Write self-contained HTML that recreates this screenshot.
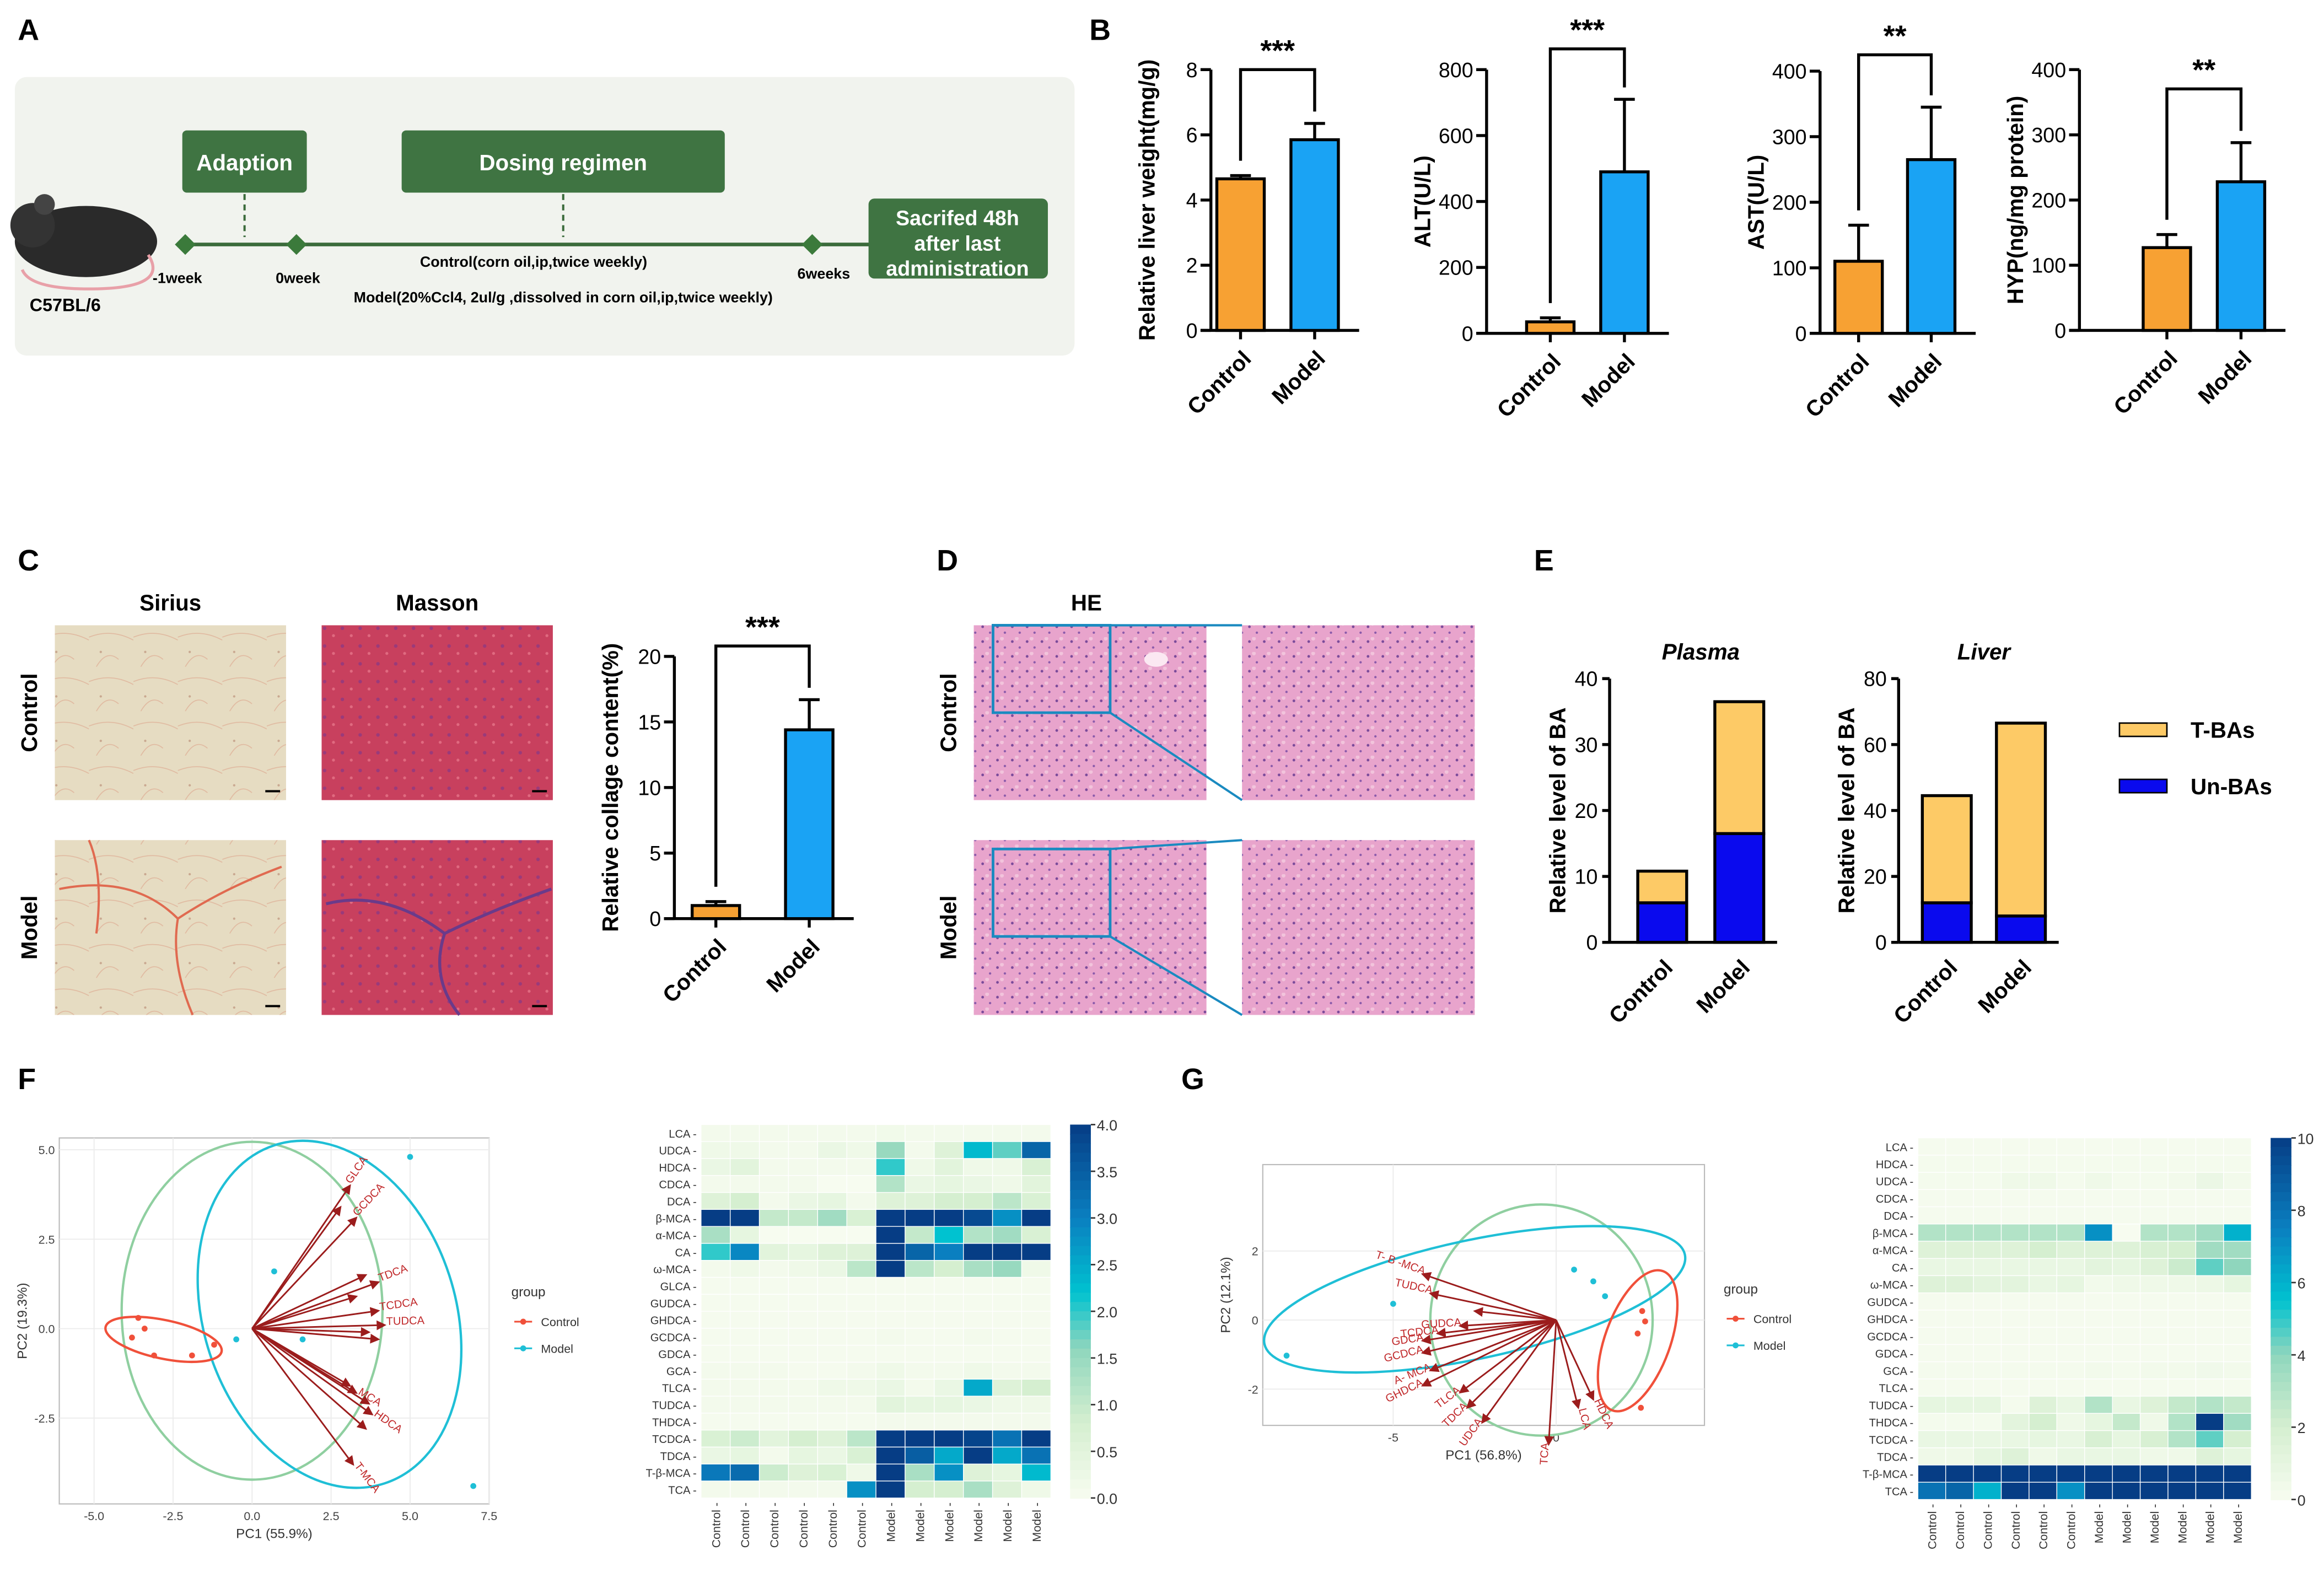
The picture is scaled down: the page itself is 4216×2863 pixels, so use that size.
<!DOCTYPE html>
<html><head><meta charset="utf-8"><style>
html,body{margin:0;padding:0;background:#fff}
svg{display:block}
text{font-family:"Liberation Sans",sans-serif}
</style></head><body>
<svg id="fig" xmlns="http://www.w3.org/2000/svg" width="4216" height="2863" viewBox="0 0 1568 1065" preserveAspectRatio="none">
<defs>
<marker id="ah" markerWidth="6" markerHeight="6" refX="5" refY="3" orient="auto"><path d="M0,0 L6,3 L0,6 z" fill="#9b1c1c"/></marker>
<pattern id="sirius" width="30" height="30" patternUnits="userSpaceOnUse"><rect width="30" height="30" fill="#e6dcc2"/><path d="M0,10 Q15,4 30,12 M5,30 Q12,18 20,25" stroke="#e0b9a0" stroke-width="0.6" fill="none"/><circle cx="8" cy="20" r="0.8" fill="#c9a890"/></pattern>
<pattern id="masson" width="12" height="12" patternUnits="userSpaceOnUse"><rect width="12" height="12" fill="#c8405e"/><circle cx="3" cy="4" r="1.2" fill="#9a3a7a"/><circle cx="9" cy="9" r="1" fill="#e06a80"/></pattern>
<pattern id="he" width="10" height="10" patternUnits="userSpaceOnUse"><rect width="10" height="10" fill="#e8a4cc"/><circle cx="3" cy="3" r="0.9" fill="#7a4a9a"/><circle cx="8" cy="7" r="0.8" fill="#8a5aaa"/><circle cx="6" cy="1" r="1.3" fill="#f2c4dc"/></pattern>
</defs>
</svg>
<script>
// ---------- data ----------
const groups=["Control","Model"];
const liverWeight=[4.65,5.85], liverWeightErr=[0.1,0.5];
const altVals=[35,490], altErr=[12,220];
const astVals=[110,265], astErr=[55,80];
const hypVals=[127,228], hypErr=[20,60];
const collagenVals=[1.0,14.4], collagenErr=[0.3,2.3];
const plasmaUn=[6,16.5], plasmaT=[4.8,20];
const liverUn=[12,8], liverT=[32.5,58.5];
const ticks8=[0,2,4,6,8], ticks800=[0,200,400,600,800], ticks400=[0,100,200,300,400], ticks20=[0,5,10,15,20], ticks40=[0,10,20,30,40], ticks80=[0,20,40,60,80];
const heatCols=["Control","Control","Control","Control","Control","Control","Model","Model","Model","Model","Model","Model"];
const heatFRows=["LCA","UDCA","HDCA","CDCA","DCA","β-MCA","α-MCA","CA","ω-MCA","GLCA","GUDCA","GHDCA","GCDCA","GDCA","GCA","TLCA","TUDCA","THDCA","TCDCA","TDCA","T-β-MCA","TCA"];
const heatFVals=[
[0.1,0.1,0.1,0.1,0.1,0.1,0.15,0.1,0.1,0.1,0.1,0.1],
[0.2,0.2,0.1,0.1,0.3,0.2,1.5,0.1,0.6,2.3,1.8,3.4],
[0.3,0.5,0.1,0.1,0.1,0.1,2.0,0.2,0.5,0.2,0.2,0.7],
[0.1,0.1,0.1,0.1,0.0,0.0,1.2,0.3,0.4,0.3,0.2,0.5],
[0.6,0.8,0.1,0.3,0.4,0.1,0.6,0.6,0.8,0.8,1.1,0.7],
[4,4,1.0,1.0,1.4,0.7,4,4,4,3.8,2.8,4],
[1.3,0.4,0.0,0.0,0.0,0.0,4,1.0,2.2,1.2,1.4,0.7],
[2.0,2.9,0.5,0.4,0.6,0.6,4,3.4,3.0,4,4,4],
[0.1,0.2,0.1,0.2,0.3,1.1,4,1.1,0.8,1.3,1.5,0.2],
[0.05,0.05,0.05,0.05,0.05,0.05,0.05,0.05,0.05,0.05,0.05,0.05],
[0.05,0.05,0.05,0.05,0.05,0.05,0.05,0.05,0.05,0.05,0.05,0.05],
[0.05,0.05,0.05,0.05,0.05,0.05,0.05,0.05,0.05,0.05,0.05,0.05],
[0.05,0.05,0.05,0.05,0.05,0.05,0.1,0.05,0.05,0.1,0.05,0.05],
[0.05,0.05,0.05,0.05,0.05,0.05,0.05,0.05,0.05,0.05,0.05,0.05],
[0.1,0.1,0.1,0.05,0.05,0.1,0.2,0.1,0.1,0.2,0.1,0.1],
[0.1,0.1,0.1,0.1,0.2,0.2,0.3,0.1,0.3,2.5,0.6,0.8],
[0.1,0.1,0.1,0.1,0.1,0.1,0.5,0.4,0.4,0.3,0.2,0.2],
[0.05,0.05,0.05,0.05,0.05,0.05,0.1,0.1,0.1,0.1,0.1,0.1],
[0.7,0.9,0.5,0.8,0.6,1.1,4,4,4,3.9,3.2,4],
[0.3,0.4,0.1,0.4,0.3,0.7,4,3.5,2.5,4,2.5,3.2],
[3.1,3.3,0.9,0.6,0.7,0.2,4,1.3,2.8,0.6,0.4,2.3],
[0.1,0.1,0.1,0.1,0.1,2.8,4,0.8,0.8,1.3,0.6,0.2]];
const heatFTicks=[0,0.5,1,1.5,2,2.5,3,3.5,4];
const heatGRows=["LCA","HDCA","UDCA","CDCA","DCA","β-MCA","α-MCA","CA","ω-MCA","GUDCA","GHDCA","GCDCA","GDCA","GCA","TLCA","TUDCA","THDCA","TCDCA","TDCA","T-β-MCA","TCA"];
const heatGVals=[
[0.1,0.1,0.1,0.1,0.1,0.1,0.1,0.1,0.1,0.1,0.1,0.1],
[0.2,0.2,0.2,0.2,0.2,0.2,0.2,0.2,0.2,0.2,0.2,0.2],
[0.2,0.2,0.2,0.5,0.5,0.2,0.5,0.2,0.2,0.3,0.7,0.3],
[0.1,0.1,0.1,0.1,0.1,0.1,0.1,0.1,0.1,0.1,0.1,0.1],
[0.1,0.1,0.1,0.1,0.1,0.1,0.1,0.1,0.1,0.1,0.1,0.1],
[3,3,3,3,3,3,7,0,3,3,3.5,6],
[1.5,1.5,1.5,1.5,2,1.5,1.5,1.5,1.8,2,3.5,3.5],
[0.8,0.8,0.8,0.8,0.8,0.8,1.2,1,1.5,2.3,4.5,4],
[1.5,1.5,1.2,1.2,0.8,1,0.3,0.5,0.5,0.5,0.6,1],
[0.1,0.1,0.1,0.1,0.1,0.1,0.1,0.1,0.1,0.1,0.1,0.1],
[0.1,0.1,0.1,0.1,0.1,0.1,0.1,0.1,0.1,0.1,0.1,0.1],
[0.1,0.1,0.1,0.1,0.1,0.1,0.1,0.1,0.1,0.1,0.1,0.1],
[0.1,0.1,0.1,0.1,0.1,0.1,0.1,0.1,0.1,0.1,0.1,0.1],
[0.2,0.2,0.2,0.2,0.2,0.2,0.3,0.2,0.3,0.3,0.4,0.3],
[0.1,0.1,0.1,0.1,0.1,0.1,0.1,0.1,0.1,0.1,0.1,0.1],
[1,1,1,0.2,1.5,0.8,3,0.8,1.5,2.5,3,2.5],
[0.2,0.2,0.2,1.2,2,0.5,1,2.5,0.5,3,10,3.5],
[0.8,0.8,0.8,0.8,1,0.8,1.8,1,1.8,3,4.5,2],
[0.5,0.5,1,1.5,0.5,0.8,0.8,0.8,0.5,0.5,1.5,1],
[10,10,10,10,10,10,10,10,10,10,10,10],
[8,8.5,6,10,10,7,10,10,10,10,10,10]];
const heatGTicks=[0,2,4,6,8,10];
// PCA F (PC units)
const pcaFControlX=[-3.6,-3.4,-3.8,-3.1,-1.9,-1.2], pcaFControlY=[0.3,0.0,-0.25,-0.75,-0.75,-0.45];
const pcaFModelX=[5.0,0.7,1.6,7.0,-0.5], pcaFModelY=[4.8,1.6,-0.3,-4.4,-0.3];
const pcaFLoadX=[3.1,2.8,3.3,3.6,4.0,3.3,4.0,4.2,4.0,3.7,3.1,3.3,3.7,3.8,3.6,3.2];
const pcaFLoadY=[4.0,3.4,3.1,1.5,1.3,0.9,0.5,0.1,-0.3,-0.1,-1.6,-1.8,-2.1,-2.4,-2.8,-3.8];
const pcaFLabels=["GLCA","","GCDCA","","TDCA","","TCDCA","TUDCA","","","","MCA","","HDCA","","T-MCA"];
// PCA G
const pcaGControlX=[2.64,2.73,2.5,2.6], pcaGControlY=[0.26,-0.04,-0.39,-2.54];
const pcaGModelX=[0.55,1.14,1.5,-5,-8.27], pcaGModelY=[1.46,1.12,0.69,0.47,-1.03];
const pcaGLoadX=[-4.1,-3.86,-2.5,-2.95,-3.64,-4.1,-4.1,-3.86,-4.1,-2.95,-2.73,-2.27,0.68,1.14,-0.23];
const pcaGLoadY=[1.33,0.77,0.26,-0.17,-0.39,-0.6,-0.95,-1.46,-1.9,-2.1,-2.54,-2.97,-2.54,-2.3,-3.6];
const pcaGLabels=["T- B -MCA","TUDCA","","GUDCA","TCDCA","GDCA","GCDCA","A- MCA","GHDCA","TLCA","TDCA","UDCA","LCA","HDCA","TCA"];

// ---------- helpers ----------
const NS="http://www.w3.org/2000/svg";
const svg=document.getElementById('fig');
function mk(tag,parent){const e=document.createElementNS(NS,tag);(parent||svg).appendChild(e);return e;}
function at(e,o){for(const k in o)e.setAttribute(k,o[k]);return e;}
function txt(str,x,y,size,parent,opts){const t=mk('text',parent);at(t,{x:x,y:y,'font-size':size});if(opts)at(t,opts);t.textContent=str;return t;}
function grp(name){const g=mk('g');return g;}

// ---------- panel letters ----------
const letters=[["A",12,27],["B",735,27],["C",12,385],["D",632,385],["E",1035,385],["F",12,735],["G",797,735]];
letters.forEach(l=>{const t=txt(l[0],l[1],l[2],20,svg,{'font-weight':'bold'});});

// ---------- Panel A ----------
(function(){
const g=grp('panel-a-timeline');
at(mk('rect',g),{x:10,y:52,width:715,height:188,rx:8,fill:'#f1f3ee'});
at(mk('ellipse',g),{cx:58,cy:163,rx:48,ry:24,fill:'#2a2a2a'});
at(mk('circle',g),{cx:22,cy:152,r:15,fill:'#333'});
at(mk('circle',g),{cx:30,cy:138,r:7,fill:'#444'});
at(mk('path',g),{d:'M100,172 Q115,195 60,195 Q20,195 15,182',stroke:'#e8a0a8','stroke-width':2,fill:'none'});
const c=txt('C57BL/6',20,210,12,g,{'font-weight':'bold'});
at(mk('line',g),{x1:120,y1:165,x2:590,y2:165,stroke:'#3b6b3b','stroke-width':2.5});
[125,200,548].forEach(x=>at(mk('path',g),{d:`M${x-7},165 L${x},158 L${x+7},165 L${x},172 z`,fill:'#3b7a3b'}));
[[165],[380]].forEach(a=>at(mk('line',g),{x1:a[0],y1:131,x2:a[0],y2:160,stroke:'#3b6b3b','stroke-width':1.5,'stroke-dasharray':'4,3'}));
const boxes=[[123,88,84,42,'Adaption'],[271,88,218,42,'Dosing regimen']];
boxes.forEach(b=>{at(mk('rect',g),{x:b[0],y:b[1],width:b[2],height:b[3],rx:3,fill:'#3f7442'});txt(b[4],b[0]+b[2]/2,b[1]+27,15,g,{'text-anchor':'middle',fill:'#fff','font-weight':'bold'});});
at(mk('rect',g),{x:586,y:134,width:121,height:54,rx:4,fill:'#3f7442'});
['Sacrifed 48h','after last','administration'].forEach((s,i)=>txt(s,646,152+i*17,14,g,{'text-anchor':'middle',fill:'#fff','font-weight':'bold'}));
txt('-1week',103,191,10,g,{'font-weight':'bold'});
txt('0week',186,191,10,g,{'font-weight':'bold'});
txt('6weeks',538,188,10,g,{'font-weight':'bold'});
txt('Control(corn oil,ip,twice weekly)',360,180,10,g,{'text-anchor':'middle','font-weight':'bold'});
txt('Model(20%Ccl4, 2ul/g ,dissolved in corn oil,ip,twice weekly)',380,204,10,g,{'text-anchor':'middle','font-weight':'bold'});
})();

// ---------- bar charts ----------
const barColors=['#f7a133','#1aa3f4'];
function barChart(name,axisX,yBase,yTop,ticks,vals,errs,barX,ytitle,sig,sigY){
  const g=grp(name);
  const max=ticks[ticks.length-1];
  const sy=v=>yBase-(v/max)*(yBase-yTop);
  at(mk('line',g),{x1:axisX,y1:yTop,x2:axisX,y2:yBase,stroke:'#000','stroke-width':2});
  at(mk('line',g),{x1:axisX-7,y1:yBase,x2:barX[1]+46,y2:yBase,stroke:'#000','stroke-width':2});
  ticks.forEach(t=>{at(mk('line',g),{x1:axisX-7,y1:sy(t),x2:axisX,y2:sy(t),stroke:'#000','stroke-width':2});
    const tl=txt(String(t),axisX-9,sy(t)+5,14,g,{'text-anchor':'end'});});
  vals.forEach((v,i)=>{
    const b=at(mk('rect',g),{x:barX[i],y:sy(v),width:32,height:yBase-sy(v),fill:barColors[i],stroke:'#000','stroke-width':2});
    
    
    const cx=barX[i]+16;
    at(mk('line',g),{x1:cx,y1:yBase,x2:cx,y2:yBase+6,stroke:'#000','stroke-width':2});
    at(mk('line',g),{x1:cx,y1:sy(v),x2:cx,y2:sy(v+errs[i]),stroke:'#000','stroke-width':2});
    at(mk('line',g),{x1:cx-7,y1:sy(v+errs[i]),x2:cx+7,y2:sy(v+errs[i]),stroke:'#000','stroke-width':2});
    const xl=txt(groups[i],cx+8,yBase+20,15,g,{'text-anchor':'end','font-weight':'bold',transform:`rotate(-45 ${cx+8} ${yBase+20})`});
    
  });
  const c0=barX[0]+16,c1=barX[1]+16;
  const top0=sy(vals[0]+errs[0])-10, top1=sy(vals[1]+errs[1])-8;
  at(mk('path',g),{d:`M${c0},${top0} L${c0},${sigY} L${c1},${sigY} L${c1},${top1}`,stroke:'#000','stroke-width':2,fill:'none'});
  const s=txt(sig,(c0+c1)/2,sigY-6,20,g,{'text-anchor':'middle','font-weight':'bold'});
  const yt=txt(ytitle,0,0,15,g,{'text-anchor':'middle','font-weight':'bold',transform:`translate(${axisX-38},${(yBase+yTop)/2}) rotate(-90)`});
  
  return g;
}
barChart('liver-weight-chart',817,223,47,ticks8,liverWeight,liverWeightErr,[821,871],'Relative liver weight(mg/g)','***',47);
barChart('alt-chart',1003,225,47,ticks800,altVals,altErr,[1030,1080],'ALT(U/L)','***',33);
barChart('ast-chart',1228,225,48,ticks400,astVals,astErr,[1238,1287],'AST(U/L)','**',37);
barChart('hyp-chart',1403,223,47,ticks400,hypVals,hypErr,[1446,1496],'HYP(ng/mg protein)','**',60);
barChart('collagen-chart',455,620,443,ticks20,collagenVals,collagenErr,[467,530],'Relative collage content(%)','***',436);

// ---------- histology images ----------
(function(){
const g=grp('panel-c-histology');
txt('Sirius',115,412,15,g,{'text-anchor':'middle','font-weight':'bold'});
txt('Masson',295,412,15,g,{'text-anchor':'middle','font-weight':'bold'});
txt('Control',0,0,15,g,{'font-weight':'bold','text-anchor':'middle',transform:'translate(25,481) rotate(-90)'});
txt('Model',0,0,15,g,{'font-weight':'bold','text-anchor':'middle',transform:'translate(25,626) rotate(-90)'});
[[37,422,'sirius'],[37,567,'sirius'],[217,422,'masson'],[217,567,'masson']].forEach(r=>{
  const im=at(mk('rect',g),{x:r[0],y:r[1],width:156,height:118,fill:`url(#${r[2]})`});
  
  at(mk('line',g),{x1:r[0]+142,y1:r[1]+112,x2:r[0]+152,y2:r[1]+112,stroke:'#000','stroke-width':1.5});
});
at(mk('path',g),{d:'M40,600 Q90,590 120,620 Q150,600 190,585 M120,620 Q115,650 130,685 M60,567 Q70,590 65,630',stroke:'#e06a50','stroke-width':1.5,fill:'none'});
at(mk('path',g),{d:'M220,610 Q260,600 300,630 Q330,615 372,600 M300,630 Q290,660 310,685',stroke:'#6a3a8a','stroke-width':2,fill:'none'});
const gd=grp('panel-d-histology');
txt('HE',733,412,15,gd,{'text-anchor':'middle','font-weight':'bold'});
txt('Control',0,0,15,gd,{'font-weight':'bold','text-anchor':'middle',transform:'translate(645,481) rotate(-90)'});
txt('Model',0,0,15,gd,{'font-weight':'bold','text-anchor':'middle',transform:'translate(645,626) rotate(-90)'});
[[657,422],[838,422],[657,567],[838,567]].forEach(r=>{
  const im=at(mk('rect',gd),{x:r[0],y:r[1],width:157,height:118,fill:'url(#he)'});
  
});
at(mk('ellipse',gd),{cx:780,cy:445,rx:8,ry:5,fill:'#fbe8f2'});
[[670,422],[670,573]].forEach(r=>{
  at(mk('rect',gd),{x:r[0],y:r[1],width:79,height:59,fill:'none',stroke:'#1a8ac0','stroke-width':1.8});
  at(mk('line',gd),{x1:r[0]+79,y1:r[1],x2:838,y2:r[1]===422?422:567,stroke:'#1a8ac0','stroke-width':1.5});
  at(mk('line',gd),{x1:r[0]+79,y1:r[1]+59,x2:838,y2:r[1]===422?540:685,stroke:'#1a8ac0','stroke-width':1.5});
});
})();

// ---------- Panel E stacked ----------
function stacked(name,title,axisX,yBase,yTop,ticks,un,tb,barX){
  const g=grp(name);
  const max=ticks[ticks.length-1];
  const sy=v=>yBase-(v/max)*(yBase-yTop);
  txt(title,(barX[0]+barX[1]+33)/2,445,15,g,{'text-anchor':'middle','font-weight':'bold','font-style':'italic'});
  at(mk('line',g),{x1:axisX,y1:yTop,x2:axisX,y2:yBase,stroke:'#000','stroke-width':2});
  at(mk('line',g),{x1:axisX,y1:yBase,x2:barX[1]+42,y2:yBase,stroke:'#000','stroke-width':2});
  ticks.forEach(t=>{at(mk('line',g),{x1:axisX-5,y1:sy(t),x2:axisX,y2:sy(t),stroke:'#000','stroke-width':2});txt(String(t),axisX-8,sy(t)+5,14,g,{'text-anchor':'end'});});
  un.forEach((v,i)=>{
    const b1=at(mk('rect',g),{x:barX[i],y:sy(v),width:33,height:yBase-sy(v),fill:'#0a0aee',stroke:'#000','stroke-width':2});
    
    const b2=at(mk('rect',g),{x:barX[i],y:sy(v+tb[i]),width:33,height:sy(v)-sy(v+tb[i]),fill:'#fdca66',stroke:'#000','stroke-width':2});
    
    const cx=barX[i]+16.5;
    txt(groups[i],cx+8,yBase+18,15,g,{'text-anchor':'end','font-weight':'bold',transform:`rotate(-45 ${cx+8} ${yBase+18})`});
  });
  txt('Relative level of BA',0,0,15,g,{'text-anchor':'middle','font-weight':'bold',transform:`translate(${axisX-30},${(yBase+yTop)/2}) rotate(-90)`});
}
stacked('plasma-ba-chart','Plasma',1086,636,458,ticks40,plasmaUn,plasmaT,[1105,1157]);
stacked('liver-ba-chart','Liver',1281,636,458,ticks80,liverUn,liverT,[1297,1347]);
(function(){const g=grp('legend-e');
at(mk('rect',g),{x:1430,y:488,width:32,height:9,fill:'#fdca66',stroke:'#000','stroke-width':1});
txt('T-BAs',1478,498,15,g,{'font-weight':'bold'});
at(mk('rect',g),{x:1430,y:526,width:32,height:9,fill:'#0a0aee',stroke:'#000','stroke-width':1});
txt('Un-BAs',1478,536,15,g,{'font-weight':'bold'});})();

// ---------- heatmaps ----------
const cmapStops=[[0,[247,252,240]],[0.2,[213,239,208]],[0.4,[143,214,189]],[0.55,[0,194,208]],[0.75,[10,127,192]],[1,[6,61,133]]];
function cmap(t){t=Math.max(0,Math.min(1,t));for(let i=1;i<cmapStops.length;i++){if(t<=cmapStops[i][0]){const a=cmapStops[i-1],b=cmapStops[i];const f=(t-a[0])/(b[0]-a[0]);const c=a[1].map((v,k)=>Math.round(v+(b[1][k]-v)*f));return `rgb(${c[0]},${c[1]},${c[2]})`;}}return 'rgb(6,61,133)';}
function heatmap(name,x0,y0,x1,y1,rows,vals,max,ticks,cbx,tickFmt){
  const g=grp(name);
  const cw=(x1-x0)/heatCols.length, rh=(y1-y0)/rows.length;
  rows.forEach((r,i)=>{
    heatCols.forEach((c,j)=>{
      const cell=at(mk('rect',g),{x:x0+j*cw,y:y0+i*rh,width:cw,height:rh,fill:cmap(vals[i][j]/max),stroke:'#fff','stroke-width':0.5});
      
      
    });
    txt(r+' -',x0-3,y0+i*rh+rh/2+3,7.5,g,{'text-anchor':'end',fill:'#333'});
  });
  heatCols.forEach((c,j)=>{const cx=x0+j*cw+cw/2+3;txt(c+' -',0,0,8,g,{'text-anchor':'end',fill:'#333',transform:`translate(${cx},${y1+3}) rotate(-90)`});});
  const N=40,h=(y1-y0)/N;
  for(let k=0;k<N;k++){at(mk('rect',g),{x:cbx,y:y0+k*h,width:14,height:h+0.5,fill:cmap(1-(k+0.5)/N)});}
  ticks.forEach(t=>{const y=y1-(t/max)*(y1-y0);at(mk('line',g),{x1:cbx+14,y1:y,x2:cbx+17,y2:y,stroke:'#333'});txt(tickFmt(t),cbx+18,y+4,10,g,{fill:'#333'});});
}
heatmap('heatmap-f',473,759,709,1011,heatFRows,heatFVals,4,heatFTicks,722,t=>t.toFixed(1));
heatmap('heatmap-g',1294,768,1519,1012,heatGRows,heatGVals,10,heatGTicks,1532,t=>String(t));

// ---------- PCA ----------
function pca(name,box,xr,yr,xticks,yticks,xfmt,xl,yl,ctrlX,ctrlY,modX,modY,ldX,ldY,ldLab,ell,legendPos){
  const g=grp(name);
  const sx=v=>box[0]+(v-xr[0])/(xr[1]-xr[0])*(box[2]-box[0]);
  const sy=v=>box[3]-(v-yr[0])/(yr[1]-yr[0])*(box[3]-box[1]);
  at(mk('rect',g),{x:box[0],y:box[1],width:box[2]-box[0],height:box[3]-box[1],fill:'#fff',stroke:'#bbb','stroke-width':0.8});
  xticks.forEach(t=>{at(mk('line',g),{x1:sx(t),y1:box[1],x2:sx(t),y2:box[3],stroke:'#ececec','stroke-width':0.7});txt(xfmt(t),sx(t),box[3]+11,8,g,{'text-anchor':'middle',fill:'#444'});});
  yticks.forEach(t=>{at(mk('line',g),{x1:box[0],y1:sy(t),x2:box[2],y2:sy(t),stroke:'#ececec','stroke-width':0.7});txt(xfmt(t),box[0]-3,sy(t)+3,8,g,{'text-anchor':'end',fill:'#444'});});
  txt(xl,(box[0]+box[2])/2,box[3]+23,9,g,{'text-anchor':'middle',fill:'#333'});
  txt(yl,0,0,9,g,{'text-anchor':'middle',fill:'#333',transform:`translate(${box[0]-22},${(box[1]+box[3])/2}) rotate(-90)`});
  ell.forEach(e=>at(mk('ellipse',g),{cx:sx(e[0]),cy:sy(e[1]),rx:e[2],ry:e[3],transform:`rotate(${e[4]} ${sx(e[0])} ${sy(e[1])})`,fill:'none',stroke:e[5],'stroke-width':1.6}));
  ldX.forEach((v,i)=>{
    const a=at(mk('line',g),{x1:sx(0),y1:sy(0),x2:sx(v),y2:sy(ldY[i]),stroke:'#9b1c1c','stroke-width':1.1,'marker-end':'url(#ah)'});
    
    if(ldLab[i]){const ex=sx(v),ey=sy(ldY[i]);const ang=Math.atan2(ey-sy(0),ex-sx(0))*180/Math.PI;
      txt(ldLab[i],ex+1,ey,7.5,g,{fill:'#c0282a','text-anchor':v<0?'end':'start',transform:v<0?`rotate(${ang+180} ${ex} ${ey})`:`rotate(${ang} ${ex} ${ey})`});}
  });
  ctrlX.forEach((v,i)=>{const p=at(mk('circle',g),{cx:sx(v),cy:sy(ctrlY[i]),r:2,fill:'#f0503a'});});
  modX.forEach((v,i)=>{const p=at(mk('circle',g),{cx:sx(v),cy:sy(modY[i]),r:2,fill:'#1fbfd6'});});
  const [lx,ly]=legendPos;
  txt('group',lx,ly,9,g,{fill:'#333'});
  at(mk('line',g),{x1:lx+2,y1:ly+17,x2:lx+14,y2:ly+17,stroke:'#f0503a','stroke-width':1.2});at(mk('circle',g),{cx:lx+8,cy:ly+17,r:2,fill:'#f0503a'});
  txt('Control',lx+20,ly+20,8,g,{fill:'#333'});
  at(mk('line',g),{x1:lx+2,y1:ly+35,x2:lx+14,y2:ly+35,stroke:'#1fbfd6','stroke-width':1.2});at(mk('circle',g),{cx:lx+8,cy:ly+35,r:2,fill:'#1fbfd6'});
  txt('Model',lx+20,ly+38,8,g,{fill:'#333'});
}
pca('pca-f',[40,768,330,1015],[-6.1,7.5],[-4.9,5.33],[-5,-2.5,0,2.5,5,7.5],[-2.5,0,2.5,5],t=>t.toFixed(1),'PC1 (55.9%)','PC2 (19.3%)',
  pcaFControlX,pcaFControlY,pcaFModelX,pcaFModelY,pcaFLoadX,pcaFLoadY,pcaFLabels,
  [[0,0.5,88,114,0,'#8fcfa0'],[2.45,0.4,85,120,-18,'#1fbfd6'],[-2.8,-0.3,40,13,12,'#f0503a']],[345,875]);
pca('pca-g',[852,786,1150,962],[-9,4.55],[-3.05,4.5],[-5,0],[-2,0,2],t=>String(t),'PC1 (56.8%)','PC2 (12.1%)',
  pcaGControlX,pcaGControlY,pcaGModelX,pcaGModelY,pcaGLoadX,pcaGLoadY,pcaGLabels,
  [[-0.45,0,75,78,0,'#8fcfa0'],[-2.5,0.6,145,40,-12,'#1fbfd6'],[2.5,-0.6,22,50,20,'#f0503a']],[1163,873]);
</script>
</body></html>
